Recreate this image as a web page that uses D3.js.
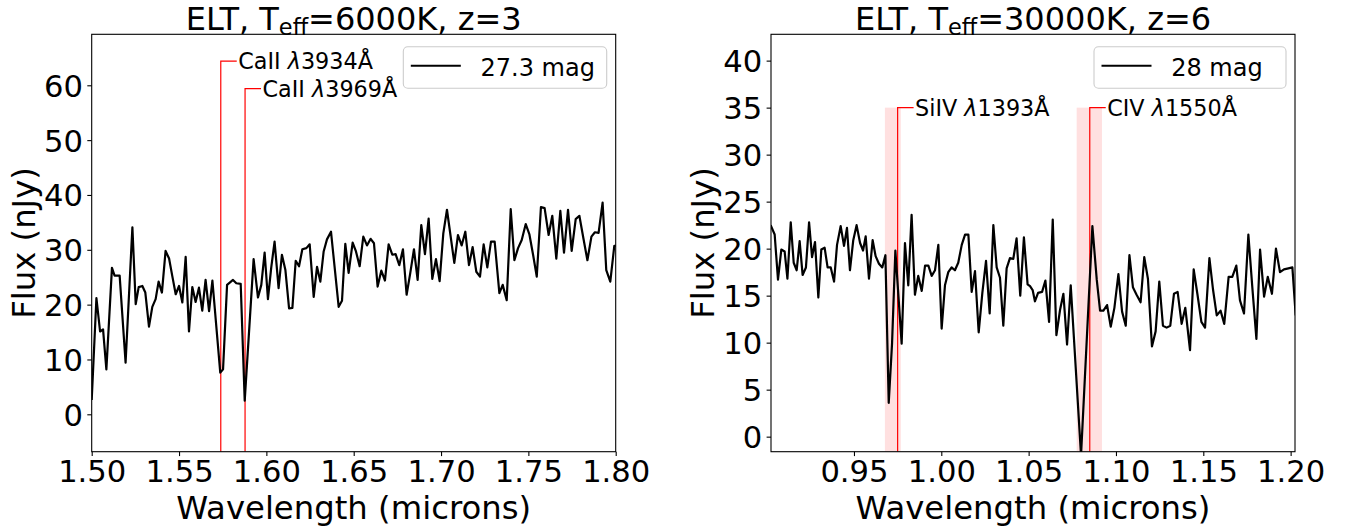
<!DOCTYPE html>
<html>
<head>
<meta charset="utf-8">
<script src="https://cdn.jsdelivr.net/npm/d3@7"></script>
<style>
  body { margin: 0; background: #fff; }
  svg { display: block; }
  text { font-family: "DejaVu Sans", sans-serif; fill: #000; }
</style>
</head>
<body>
<svg id="fig" width="1354" height="530"></svg>
<script>
// ---- Spectrum A: T_eff = 6000 K, z = 3 (H band) ----
const wavelengthA = [
  1.5000, 1.5027, 1.5048, 1.5065, 1.5084, 1.5116, 1.5131, 1.5160, 1.5194, 1.5233,
  1.5252, 1.5269, 1.5290, 1.5307, 1.5328, 1.5347, 1.5366, 1.5383, 1.5402, 1.5423,
  1.5443, 1.5462, 1.5481, 1.5500, 1.5519, 1.5538, 1.5557, 1.5576, 1.5595, 1.5614,
  1.5633, 1.5652, 1.5672, 1.5691, 1.5736, 1.5752, 1.5775, 1.5809, 1.5828, 1.5853,
  1.5876, 1.5927, 1.5952, 1.5971, 1.5990, 1.6009, 1.6028, 1.6047, 1.6070, 1.6089,
  1.6109, 1.6130, 1.6149, 1.6168, 1.6187, 1.6206, 1.6229, 1.6248, 1.6271, 1.6290,
  1.6309, 1.6328, 1.6347, 1.6370, 1.6414, 1.6433, 1.6452, 1.6471, 1.6494, 1.6513,
  1.6534, 1.6555, 1.6576, 1.6597, 1.6616, 1.6637, 1.6658, 1.6679, 1.6700, 1.6721,
  1.6740, 1.6761, 1.6782, 1.6803, 1.6824, 1.6845, 1.6866, 1.6887, 1.6908, 1.6929,
  1.6950, 1.6971, 1.6992, 1.7013, 1.7034, 1.7076, 1.7097, 1.7118, 1.7139, 1.7160,
  1.7181, 1.7202, 1.7223, 1.7244, 1.7265, 1.7286, 1.7307, 1.7334, 1.7353, 1.7376,
  1.7399, 1.7420, 1.7441, 1.7462, 1.7485, 1.7506, 1.7527, 1.7548, 1.7572, 1.7593,
  1.7616, 1.7637, 1.7660, 1.7683, 1.7704, 1.7727, 1.7748, 1.7771, 1.7792, 1.7815,
  1.7838, 1.7861, 1.7881, 1.7902, 1.7925, 1.7946, 1.7969, 1.7992, 1.8005
];
const fluxA = [
  2.6, 21.2, 15.1, 15.5, 8.2, 26.7, 25.3, 25.3, 9.4, 34.1,
  20.1, 23.2, 23.4, 22.2, 16.0, 19.6, 21.0, 24.2, 22.2, 29.8,
  28.4, 25.1, 21.9, 23.4, 20.4, 28.7, 15.1, 23.2, 20.5, 23.1,
  18.9, 24.5, 18.8, 24.4, 7.6, 8.2, 23.6, 24.5, 23.9, 23.8,
  2.5, 28.3, 21.3, 23.6, 29.5, 21.0, 26.8, 31.5, 23.0, 29.1,
  26.3, 19.3, 19.4, 28.0, 27.0, 30.1, 30.3, 31.0, 21.4, 26.9,
  24.2, 29.7, 31.9, 33.3, 19.6, 20.7, 31.1, 25.8, 31.3, 29.7,
  27.0, 32.4, 30.8, 32.0, 31.2, 23.3, 26.2, 24.4, 31.0, 29.1,
  29.2, 27.2, 30.1, 21.8, 25.8, 30.1, 24.5, 34.5, 29.2, 35.7,
  24.7, 28.3, 24.3, 33.0, 37.3, 27.6, 32.7, 30.8, 33.3, 27.2,
  30.5, 26.0, 25.1, 31.0, 26.8, 31.5, 31.5, 22.1, 23.6, 20.8,
  37.4, 28.1, 30.3, 31.8, 34.7, 32.8, 29.1, 25.1, 37.8, 37.6,
  32.7, 36.2, 28.4, 37.1, 29.5, 37.3, 29.8, 35.6, 36.2, 32.1,
  28.1, 32.4, 33.2, 33.1, 38.6, 26.3, 24.2, 30.7, 30.7
];

// ---- Spectrum B: T_eff = 30000 K, z = 6 (Y/J band) ----
const wavelengthB = [
  0.9023, 0.9046, 0.9065, 0.9084, 0.9103, 0.9119, 0.9138, 0.9155, 0.9172, 0.9189,
  0.9206, 0.9225, 0.9243, 0.9260, 0.9277, 0.9296, 0.9313, 0.9332, 0.9349, 0.9367,
  0.9386, 0.9403, 0.9424, 0.9443, 0.9460, 0.9477, 0.9496, 0.9515, 0.9535, 0.9552,
  0.9567, 0.9586, 0.9607, 0.9624, 0.9643, 0.9662, 0.9680, 0.9699, 0.9718, 0.9737,
  0.9773, 0.9792, 0.9811, 0.9830, 0.9849, 0.9868, 0.9888, 0.9907, 0.9926, 0.9945,
  0.9964, 0.9983, 1.0002, 1.0021, 1.0040, 1.0059, 1.0078, 1.0097, 1.0117, 1.0136,
  1.0155, 1.0174, 1.0193, 1.0214, 1.0235, 1.0256, 1.0277, 1.0298, 1.0317, 1.0336,
  1.0355, 1.0374, 1.0393, 1.0412, 1.0431, 1.0452, 1.0473, 1.0494, 1.0508, 1.0523,
  1.0536, 1.0554, 1.0577, 1.0596, 1.0617, 1.0638, 1.0659, 1.0680, 1.0699, 1.0720,
  1.0741, 1.0800, 1.0865, 1.0890, 1.0909, 1.0928, 1.0949, 1.0970, 1.0991, 1.1014,
  1.1035, 1.1056, 1.1077, 1.1097, 1.1118, 1.1141, 1.1162, 1.1183, 1.1206, 1.1227,
  1.1248, 1.1269, 1.1290, 1.1311, 1.1332, 1.1353, 1.1376, 1.1397, 1.1424, 1.1445,
  1.1466, 1.1489, 1.1510, 1.1535, 1.1556, 1.1577, 1.1599, 1.1620, 1.1645, 1.1666,
  1.1689, 1.1710, 1.1733, 1.1758, 1.1781, 1.1804, 1.1825, 1.1848, 1.1869, 1.1893,
  1.1916, 1.1939, 1.1962, 1.1987, 1.2010, 1.2029
];
const fluxB = [
  22.5, 21.5, 16.7, 19.9, 19.7, 16.8, 22.8, 18.5, 17.7, 20.8,
  17.2, 18.0, 22.8, 19.1, 20.7, 14.8, 19.9, 20.1, 18.0, 18.0,
  16.5, 20.4, 22.4, 20.3, 22.2, 17.7, 20.9, 22.5, 20.6, 19.8,
  21.3, 16.8, 20.9, 19.2, 18.4, 18.0, 19.3, 3.6, 9.9, 19.8,
  9.9, 20.6, 16.1, 23.6, 15.1, 17.1, 15.5, 18.2, 18.2, 17.1,
  17.7, 20.4, 11.5, 16.1, 17.5, 18.0, 17.7, 18.5, 20.4, 21.5,
  21.5, 15.4, 17.6, 11.1, 15.3, 18.7, 13.1, 22.5, 18.0, 16.9,
  11.8, 17.9, 19.0, 18.9, 21.1, 15.0, 21.2, 16.2, 16.0, 15.6,
  14.4, 15.3, 15.4, 16.6, 12.2, 23.1, 10.8, 13.5, 15.2, 9.8,
  16.1, -2.0, 22.4, 16.7, 13.4, 13.4, 14.0, 11.7, 13.7, 17.3,
  13.3, 11.8, 19.3, 15.9, 15.1, 14.3, 19.1, 16.8, 9.6, 11.2,
  16.5, 11.8, 11.6, 11.8, 15.2, 15.4, 12.0, 13.7, 9.2, 17.8,
  15.2, 12.2, 11.6, 19.0, 15.6, 12.9, 13.4, 12.0, 17.0, 17.0,
  18.2, 14.5, 13.1, 21.5, 15.8, 10.4, 19.9, 14.9, 17.0, 15.2,
  20.0, 17.5, 17.8, 17.9, 18.0, 12.9
];

// ---- Ticks ----
const xTicksA = [1.50, 1.55, 1.60, 1.65, 1.70, 1.75, 1.80];
const yTicksA = [0, 10, 20, 30, 40, 50, 60];
const xTicksB = [0.95, 1.00, 1.05, 1.10, 1.15, 1.20];
const yTicksB = [0, 5, 10, 15, 20, 25, 30, 35, 40];

// ---- Axis limits ----
const xLimA = [1.50, 1.80];
const yLimA = [-6.82, 69.3];
const xLimB = [0.9025, 1.2025];
const yLimB = [-1.6, 42.8];

// ---- Line identifications: ion, rest wavelength (Å), observed wavelength (µm), label height (nJy) ----
const ionsA = ["CaII", "CaII"];
const restA = ["3934", "3969"];
const obsA = [1.5739, 1.5878];
const markA = [64.4, 59.4];

const ionsB = ["SiIV", "CIV"];
const restB = ["1393", "1550"];
const obsB = [0.9750, 1.0850];
const markB = [35, 35];
// shaded windows around each feature (µm)
const windowB = [[0.9677, 0.9768], [1.0775, 1.0920]];

// ---- Titles and legend entries ----
const titleTemps = ["6000K", "30000K"];
const titleRedshifts = ["3", "6"];
const legendLabels = ["27.3 mag", "28 mag"];

// ---- Layout ----
const TKS = 30.6;      // tick label size
const LBS = 32.3;      // axis label size
const TFS = 32;        // title size
const LEG = 24;        // legend size
const ANN = 22.3;      // line-ID size
const TICK = 4.4, PAD = 4.4;
const TOP = 34.3, BOTTOM = 451.7;

const svg = d3.select("#fig");
svg.append("rect").attr("width", 1354).attr("height", 530).attr("fill", "#fff");

const panels = [
  {
    id: "a", left: 91.7, right: 615.7, ylabelX: 34.5, legendExtra: 0,
    xLim: xLimA, yLim: yLimA, xTicks: xTicksA, yTicks: yTicksA,
    wl: wavelengthA, flux: fluxA,
    ions: ionsA, rest: restA, obs: obsA, mark: markA, windows: null,
    temp: titleTemps[0], z: titleRedshifts[0], legend: legendLabels[0]
  },
  {
    id: "b", left: 771, right: 1295, ylabelX: 713.5, legendExtra: 11.5,
    xLim: xLimB, yLim: yLimB, xTicks: xTicksB, yTicks: yTicksB,
    wl: wavelengthB, flux: fluxB,
    ions: ionsB, rest: restB, obs: obsB, mark: markB, windows: windowB,
    temp: titleTemps[1], z: titleRedshifts[1], legend: legendLabels[1]
  }
];

panels.forEach(p => {
  const x = d3.scaleLinear().domain(p.xLim).range([p.left, p.right]);
  const y = d3.scaleLinear().domain(p.yLim).range([BOTTOM, TOP]);
  const g = svg.append("g");

  const clipId = "clip-" + p.id;
  svg.append("defs").append("clipPath").attr("id", clipId)
    .append("rect")
    .attr("x", p.left).attr("y", TOP)
    .attr("width", p.right - p.left).attr("height", BOTTOM - TOP);

  const plot = g.append("g").attr("clip-path", `url(#${clipId})`);

  // shaded windows
  if (p.windows) {
    plot.selectAll("rect.win").data(p.windows.map((w, i) => ({ w, top: p.mark[i] })))
      .join("rect").attr("class", "win")
      .attr("x", d => x(d.w[0]))
      .attr("width", d => x(d.w[1]) - x(d.w[0]))
      .attr("y", d => y(d.top))
      .attr("height", d => y(p.yLim[0]) - y(d.top))
      .attr("fill", "#ff0000").attr("fill-opacity", 0.12);
  }

  // line-ID markers: vertical from the floor, then a short leader to the label
  const ids = p.obs.map((w, i) => ({ w, top: p.mark[i], ion: p.ions[i], rest: p.rest[i] }));
  const labelOffset = 0.01;   // µm between marker and its label
  plot.selectAll("path.id").data(ids).join("path").attr("class", "id")
    .attr("d", d => `M${x(d.w)},${y(p.yLim[0])}V${y(d.top)}H${x(d.w + labelOffset) - 1.5}`)
    .attr("fill", "none").attr("stroke", "#ff0000").attr("stroke-width", 1.2);

  // spectrum
  const pts = d3.zip(p.wl, p.flux);
  plot.append("path").datum(pts)
    .attr("d", d3.line().x(d => x(d[0])).y(d => y(d[1])))
    .attr("fill", "none").attr("stroke", "#000")
    .attr("stroke-width", 2.2).attr("stroke-linejoin", "round");

  // line-ID labels
  const lab = g.selectAll("text.id").data(ids).join("text").attr("class", "id")
    .attr("x", d => x(d.w + labelOffset))
    .attr("y", d => y(d.top))
    .attr("dy", "0.36em")
    .attr("font-size", ANN);
  lab.append("tspan").text(d => d.ion + " ");
  lab.append("tspan").attr("font-style", "italic").text("\u03bb");
  lab.append("tspan").text(d => d.rest + "\u00c5");

  // axes
  const xa = d3.axisBottom(x).tickValues(p.xTicks).tickFormat(d3.format(".2f"))
    .tickSize(TICK).tickPadding(PAD);
  const gx = g.append("g").attr("transform", `translate(0,${BOTTOM})`).call(xa);
  const ya = d3.axisLeft(y).tickValues(p.yTicks).tickFormat(d3.format("d"))
    .tickSize(TICK).tickPadding(PAD);
  const gy = g.append("g").attr("transform", `translate(${p.left},0)`).call(ya);
  [gx, gy].forEach(a => {
    a.select(".domain").remove();
    a.selectAll(".tick line").attr("stroke", "#000").attr("stroke-width", 1.1);
    a.selectAll(".tick text").attr("font-size", TKS).attr("font-family", "DejaVu Sans, sans-serif").attr("fill", "#000");
  });
  gx.selectAll(".tick text").attr("dy", "0.70em");
  gy.selectAll(".tick text").attr("dy", "0.36em");

  // frame
  g.append("rect").attr("x", p.left).attr("y", TOP)
    .attr("width", p.right - p.left).attr("height", BOTTOM - TOP)
    .attr("fill", "none").attr("stroke", "#000").attr("stroke-width", 1.1);

  // axis labels
  const cx = (p.left + p.right) / 2;
  g.append("text").attr("x", cx).attr("y", 518.5).attr("text-anchor", "middle")
    .attr("font-size", LBS).text("Wavelength (microns)");
  g.append("text").attr("transform", `translate(${p.ylabelX},${(TOP + BOTTOM) / 2}) rotate(-90)`)
    .attr("text-anchor", "middle").attr("font-size", LBS).text("Flux (nJy)");

  // title
  const t = g.append("text").attr("x", cx).attr("y", 29.6)
    .attr("text-anchor", "middle").attr("font-size", TFS);
  t.append("tspan").text("ELT, T");
  t.append("tspan").attr("font-size", TFS * 0.7).attr("dy", 5.3).text("eff");
  t.append("tspan").attr("dy", -5.3).text(`=${p.temp}, z=${p.z}`);

  // legend (upper right)
  const lg = g.append("g");
  const box = lg.append("rect");
  const txt = lg.append("text").attr("font-size", LEG).text(p.legend);
  const tw = txt.node().getComputedTextLength();
  const padL = 7.5, handle = 50, gap = 19.7, padR = 11.8 + p.legendExtra;
  const bw = padL + handle + gap + tw + padR;
  const bh = 41.6;
  const bx = p.right - 9 - bw;
  const by = TOP + 12.4;
  box.attr("x", bx).attr("y", by).attr("width", bw).attr("height", bh)
    .attr("rx", 4.5).attr("fill", "#fff").attr("fill-opacity", 0.8)
    .attr("stroke", "#cccccc").attr("stroke-width", 1.1);
  lg.append("line")
    .attr("x1", bx + padL).attr("x2", bx + padL + handle)
    .attr("y1", by + 19).attr("y2", by + 19)
    .attr("stroke", "#000").attr("stroke-width", 2.1);
  txt.attr("x", bx + padL + handle + gap).attr("y", by + 29.3);
});
</script>
</body>
</html>
